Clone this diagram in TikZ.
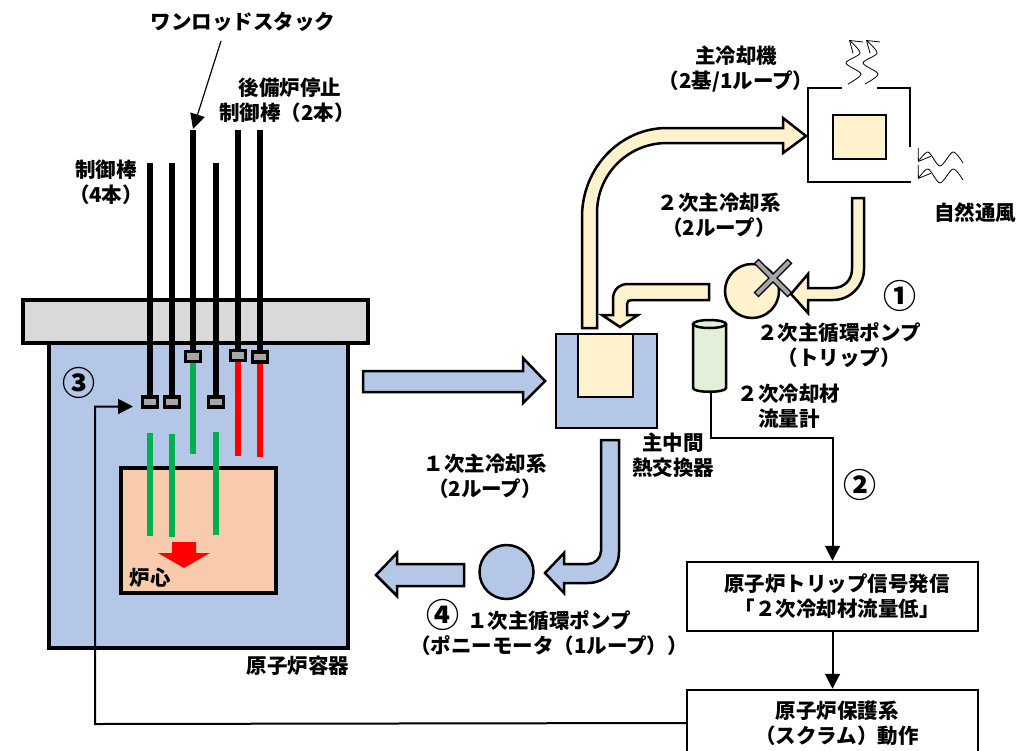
\documentclass[tikz,border=0pt]{standalone}
\usepackage{fontspec}
\setmainfont{Noto Sans CJK JP}
\usetikzlibrary{arrows.meta}
\definecolor{primcol}{HTML}{B4C7E7}
\definecolor{seccol}{HTML}{FFF2CC}
\definecolor{corecol}{HTML}{F8CBAD}
\definecolor{metercol}{HTML}{E2F0D9}
\definecolor{lidcol}{HTML}{D9D9D9}
\definecolor{boxcol}{HTML}{A6A6A6}
\definecolor{rodgreen}{HTML}{00B050}
\tikzset{
  lbl/.style={font=\fontsize{20.5}{25}\selectfont\bfseries, align=center, inner sep=0pt},
  num/.style={font=\fontsize{33}{36}\selectfont\bfseries, inner sep=0pt},
  wall/.style={draw=black, line width=3.5pt},
  flow/.style={draw=black, line width=2.5pt, miter limit=20},
  rod/.style={line width=5.5pt},
  rodbox/.style={draw=black, line width=3.5pt, fill=boxcol, minimum width=15pt, minimum height=10pt, inner sep=0pt},
  sig/.style={draw=black, line width=2pt},
  sigtip/.style={-{Triangle[length=15pt,width=15pt]}},
  sysbox/.style={lbl, draw=black, line width=2.5pt, fill=white, minimum width=291pt},
  wave/.style={line width=0.8pt, smooth, -{Straight Barb[length=11pt,width=15pt]}}
}

\begin{document}
\begin{tikzpicture}[x=1pt, y=-1pt]
    \useasboundingbox (0,0) rectangle (1016,750);
    \draw[wall, fill=primcol] (49,343) rectangle (348,648);
    \draw[wall, fill=corecol] (121,468) rectangle (276,593);
    \draw[fill=red, draw=none] (172,542) -- (196,542) -- (196,553) -- (210,553) -- (184,568) -- (158,553) -- (172,553) -- cycle;
    \draw[wall, fill=lidcol] (23,300) rectangle (368,343);
    \foreach \x/\ya/\yb/\colr in {150/433/536/rodgreen, 172/434/537/rodgreen, 193/360/454/rodgreen, 216/432/535/rodgreen, 238/360/456/red, 260/360/457/red}
    \draw[rod, color=\colr] (\x,\ya) -- (\x,\yb);
    \foreach \x/\ya/\yb in {150/163/402, 172/163/402, 193/130/356.5, 216/163/402, 238/130/355.5, 260/130/357} {
    \draw[rod] (\x,\ya) -- (\x,\yb);
    \node[rodbox] (box\x) at (\x,\yb) {};
    }
    \coordinate (stacktop) at (193,129);
    \coordinate (scramin) at (133,406.5);
    \coordinate (scrambend) at (95,724);
    \coordinate (tripbend) at (832.5,438);
    \coordinate (meterout) at (711,391);
    \node[lbl] (stack) at (243,22) {ワンロッドスタック};
    \node[lbl] (backup) at (287,100) {\hspace*{6pt}後備炉停止\\制御棒（2本）};
    \node[lbl] (rods) at (106,182) {制御棒\\（4本）};
    \node[lbl] (core) at (150,578) {炉心};
    \node[lbl] (vessel) at (298,666) {原子炉容器};
    \node[num] (three) at (79,383) {③};
    \draw[line width=1.2pt, -{Triangle[length=15pt,width=15pt]}] (221,41) -- (stacktop);

    \draw[flow, fill=primcol] (363,371) -- (523,371) -- (523,358) -- (545,381) -- (523,403) -- (523,392) -- (363,392) -- cycle;
    \draw[wall, line width=2.5pt, fill=primcol] (556,334) rectangle (657,428);
    \draw[wall, line width=2.5pt, fill=seccol] (578,334) rectangle (633,397);
    \draw[flow, fill=primcol] (601,440) -- (619,440) -- (619,552) .. controls (619,569) and (605,583) .. (588,583) -- (564,583) -- (564,593) -- (545,573) -- (564,553) -- (564,564) -- (588,564) .. controls (595,564) and (601,558) .. (601,551) -- cycle;
    \node[circle, draw=black, line width=2.5pt, fill=primcol, minimum size=54pt, inner sep=0pt] (primpump) at (506.5,572) {};
    \draw[flow, fill=primcol] (464,564) -- (397,564) -- (397,553) -- (376,575) -- (397,596) -- (397,586) -- (464,586) -- cycle;

    \draw[flow, fill=seccol] (582,328) -- (582,217) .. controls (582,168) and (620,128) .. (667,128) -- (783,128) -- (783,118) -- (806,136) -- (783,153) -- (783,143) -- (667,143) .. controls (628,143) and (597,174) .. (597,213) -- (597,328) -- cycle;
    \draw[flow, fill=seccol] (709,284) -- (628,284) .. controls (619,284) and (613,290) .. (613,299) -- (613,315) -- (602,315) -- (620,327) -- (638,315) -- (627,315) -- (627,304) .. controls (627,301) and (629,300) .. (632,300) -- (709,300) -- cycle;
    \node[circle, draw=black, line width=2.5pt, fill=seccol, minimum size=54pt, inner sep=0pt] (secpump) at (752,291) {};
    \draw[line width=7pt] (756,261) -- (790,295);
    \draw[line width=7pt] (756,295) -- (790,261);
    \draw[line width=4pt, color=boxcol] (757,262) -- (789,294);
    \draw[line width=4pt, color=boxcol] (757,294) -- (789,262);
    \draw[flow, fill=seccol] (864,198) -- (864,269) .. controls (864,286) and (850,300) .. (833,300) -- (808,300) -- (808,313) -- (791,294) -- (808,274) -- (808,288) -- (833,288) .. controls (844,288) and (852,280) .. (852,269) -- (852,198) -- cycle;

    \draw[line width=2.2pt] (842,88) -- (808,88) -- (808,182) -- (911,182);
    \draw[line width=2.2pt] (877,88) -- (910,88) -- (910,147);
    \draw[wall, line width=2.5pt, fill=seccol] (833,115) rectangle (886,159);
    \foreach \s in {0,17}
    \draw[wave, shift={(\s,0)}] plot coordinates {(848,84) (861,74) (846,63) (860,53) (849,40)};
    \foreach \s in {0,17}
    \draw[wave, shift={(0,\s)}] plot coordinates {(963,163) (953,152) (940,166) (928,152) (918,162)};

    \draw[line width=2.5pt, fill=metercol] (693,324) -- (693,388) .. controls (693,393) and (726,393) .. (726,388) -- (726,324);
    \draw[line width=2.5pt, fill=metercol] (709.5,324) ellipse [x radius=16.5pt, y radius=4pt];
    \node[sysbox, minimum height=69pt] (trip) at (832.5,596.5) {\hspace*{9pt}原子炉トリップ信号発信\\\hspace*{9pt}「２次冷却材流量低」};
    \node[sysbox, minimum height=66pt] (scram) at (832.5,723) {\hspace*{9pt}原子炉保護系\\\hspace*{9pt}（スクラム）動作};
    \draw[sig, sigtip] (meterout) |- (tripbend) -- (trip.north);
    \draw[sig, sigtip] (trip.south) -- (scram.north);
    \draw[sig, sigtip] (scram.west) -- (scrambend) |- (scramin);

    \node[lbl] (cooler) at (736,69) {主冷却機\\（2基/1ループ）};
    \node[lbl] (secloop) at (719,215) {２次主冷却系\\（2ループ）};
    \node[lbl] (wind) at (975,213) {自然通風};
    \node[lbl] (secpumplbl) at (839,345) {２次主循環ポンプ\\（トリップ）};
    \node[lbl] (meterlbl) at (789,406) {２次冷却材\\流量計};
    \node[lbl] (exch) at (673,455) {主中間\\熱交換器};
    \node[lbl] (primloop) at (485,476) {１次主冷却系\\（2ループ）};
    \node[lbl] (primpumplbl) at (549,633) {１次主循環ポンプ\\（ポニーモータ（1ループ））};
    \node[num] (one) at (900,296) {①};
    \node[num] (two) at (860,485) {②};
    \node[num] (four) at (443,615) {④};
\end{tikzpicture}
\end{document}
